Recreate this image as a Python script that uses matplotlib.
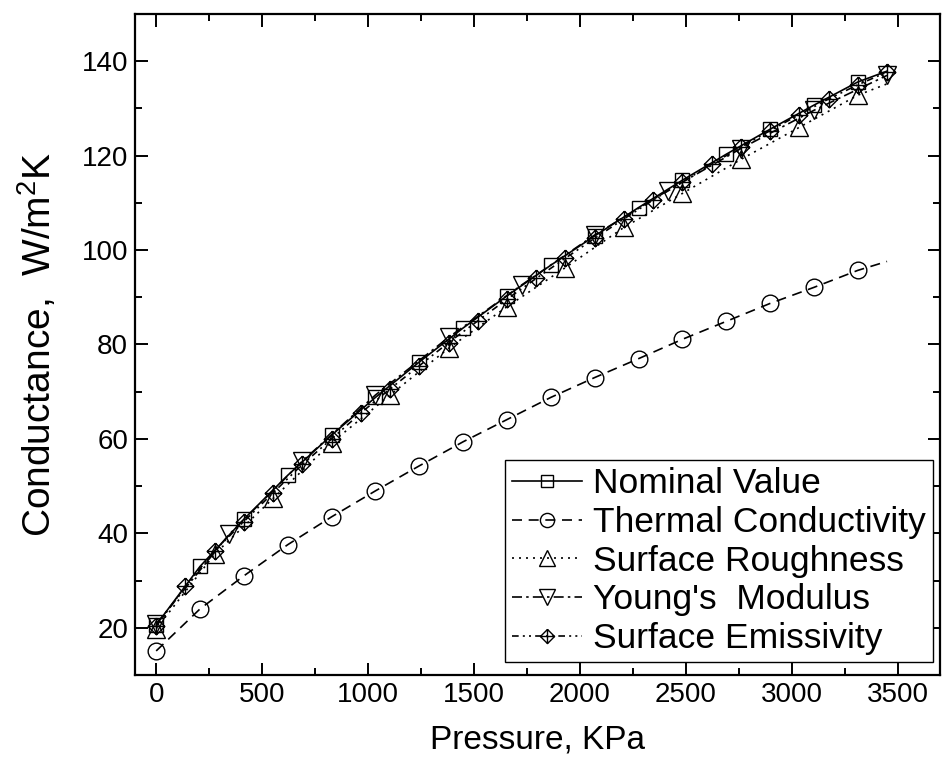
import matplotlib
matplotlib.use("Agg")
import matplotlib.pyplot as plt
from matplotlib.path import Path
from matplotlib.ticker import MultipleLocator

plt.rcParams['font.family'] = ['Liberation Sans', 'DejaVu Sans']

# Pressure (kPa) and contact conductance (W/m^2K) for each parameter study
p_nominal = [0, 207, 414, 621, 828, 1035, 1242, 1449, 1656, 1863, 2070, 2277,
             2484, 2691, 2898, 3105, 3312, 3450]
c_nominal = [20.6, 33.0, 43.0, 52.3, 60.8, 68.8, 76.3, 83.5, 90.3, 96.8, 103.0,
             109.0, 114.8, 120.3, 125.6, 130.7, 135.6, 137.9]

p_thermal = [0, 207, 414, 621, 828, 1035, 1242, 1449, 1656, 1863, 2070, 2277,
             2484, 2691, 2898, 3105, 3312, 3450]
c_thermal = [15.1, 24.0, 31.0, 37.6, 43.5, 49.0, 54.3, 59.4, 64.1, 68.8, 73.0,
             77.0, 81.1, 84.9, 88.7, 92.1, 95.7, 97.6]

p_rough = [0, 276, 552, 828, 1104, 1380, 1656, 1932, 2208, 2484, 2760, 3036,
           3312, 3450]
c_rough = [19.8, 35.6, 47.4, 59.2, 69.3, 79.2, 88.0, 96.3, 104.8, 112.0, 119.2,
           126.0, 132.8, 135.2]

p_young = [0, 345, 690, 1035, 1380, 1725, 2070, 2415, 2760, 3105, 3450]
c_young = [20.8, 39.8, 55.3, 69.3, 81.5, 92.6, 103.2, 112.6, 121.5, 129.6, 137.0]

p_emis = [0, 138, 276, 414, 552, 690, 828, 966, 1104, 1242, 1380, 1518, 1656,
          1794, 1932, 2070, 2208, 2346, 2484, 2622, 2760, 2898, 3036, 3174,
          3312, 3450]
c_emis = [20.3, 28.8, 36.3, 42.5, 48.6, 54.6, 60.0, 65.5, 70.6, 75.5, 80.4,
          85.0, 89.6, 94.0, 98.3, 102.5, 106.6, 110.6, 114.4, 118.2, 121.8,
          125.3, 128.7, 132.0, 135.0, 137.7]

labels = ["Nominal Value", "Thermal Conductivity", "Surface Roughness",
          "Young's  Modulus", "Surface Emissivity"]

# diamond with a cross inside
diamond_plus = Path(
    [(0, 1), (1, 0), (0, -1), (-1, 0), (0, 1), (0, 1), (0, -1), (-1, 0), (1, 0)],
    [Path.MOVETO, Path.LINETO, Path.LINETO, Path.LINETO, Path.LINETO,
     Path.MOVETO, Path.LINETO, Path.MOVETO, Path.LINETO])

fig = plt.figure(figsize=(9.47, 7.83), dpi=100)
ax = fig.add_axes([135 / 947, 1 - 675 / 783, 805 / 947, 661 / 783])

common = dict(color='black', mfc='none', mec='black', mew=1.0, lw=1.2)

ax.plot(p_nominal, c_nominal, '-', marker='s', ms=10,
        markevery=slice(0, len(p_nominal) - 1), label=labels[0], **common)
ax.plot(p_thermal, c_thermal, linestyle=(0, (6, 4)), marker='o', ms=12,
        markevery=slice(0, len(p_thermal) - 1), label=labels[1], **common)
ax.plot(p_rough, c_rough, linestyle=(0, (1.2, 3)), marker='^', ms=13,
        markevery=slice(0, len(p_rough) - 1), label=labels[2], **common)
ax.plot(p_young, c_young, linestyle=(0, (6, 2.5, 1.5, 2.5)), marker='v', ms=13,
        label=labels[3], **common)
ax.plot(p_emis, c_emis, linestyle=(0, (4, 2.5, 1.2, 2.5, 1.2, 2.5)),
        marker=diamond_plus, ms=12, label=labels[4], **common)

ax.set_xlim(-100, 3700)
ax.set_ylim(10, 150)
ax.xaxis.set_major_locator(MultipleLocator(500))
ax.xaxis.set_minor_locator(MultipleLocator(250))
ax.yaxis.set_major_locator(MultipleLocator(20))
ax.yaxis.set_minor_locator(MultipleLocator(10))
ax.set_yticks([20, 40, 60, 80, 100, 120, 140])

for s in ax.spines.values():
    s.set_linewidth(1.6)
ax.tick_params(which='both', direction='in', top=True, right=True, width=1.4)
ax.tick_params(which='major', length=9)
ax.tick_params(which='minor', length=5)
ax.tick_params(axis='x', which='major', labelsize=20, pad=5)
ax.tick_params(axis='y', which='major', labelsize=20, pad=5)

ax.set_xlabel("Pressure, KPa", fontsize=24, labelpad=12)
ax.set_ylabel("Conductance,  W/m$^\\mathregular{2}$K", fontsize=28, labelpad=16)

leg = fig.legend(loc='lower right', bbox_to_anchor=(933 / 947, 1 - 662 / 783),
                 bbox_transform=fig.transFigure, fontsize=25.5, frameon=True,
                 fancybox=False, edgecolor='black', framealpha=1,
                 handlelength=2.0, handletextpad=0.3, borderpad=0.2,
                 labelspacing=0.16, borderaxespad=0, markerscale=0.85)
leg.get_frame().set_linewidth(1.0)

fig.savefig("out.png", dpi=100)
